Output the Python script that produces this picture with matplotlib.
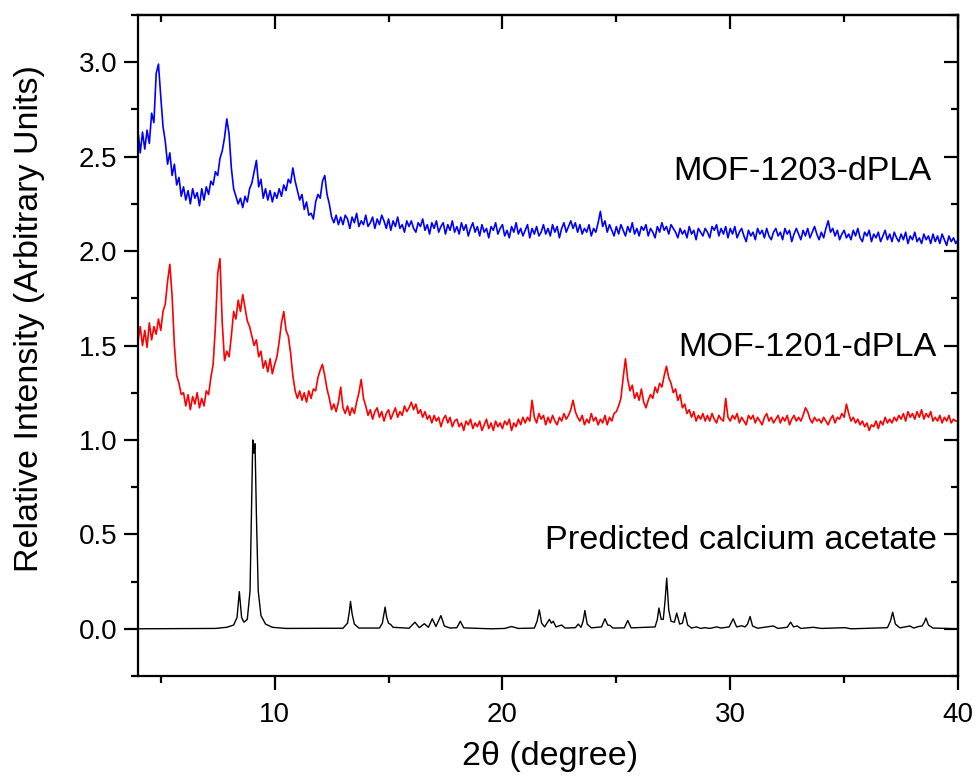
import numpy as np
import matplotlib.pyplot as plt
from matplotlib.ticker import MultipleLocator

plt.rcParams['font.family'] = ['Liberation Sans', 'DejaVu Sans']
plt.rcParams['xtick.labelsize'] = 20
plt.rcParams['ytick.labelsize'] = 20

# 2-theta grid of the measured patterns, 4.0 .. 40.0 in 0.1 deg steps
two_theta = np.round(np.arange(4.0, 40.05, 0.1), 1)

# MOF-1203-dPLA (offset pattern), one row per degree
mof1203 = [
    2.64, 2.52, 2.63, 2.54, 2.64, 2.57, 2.73, 2.68, 2.94, 2.99,
    2.82, 2.66, 2.58, 2.46, 2.52, 2.40, 2.46, 2.35, 2.39, 2.29,
    2.34, 2.27, 2.32, 2.25, 2.33, 2.28, 2.31, 2.24, 2.33, 2.27,
    2.34, 2.30, 2.37, 2.35, 2.42, 2.40, 2.49, 2.53, 2.60, 2.70,
    2.62, 2.44, 2.33, 2.29, 2.25, 2.28, 2.23, 2.29, 2.26, 2.33,
    2.36, 2.42, 2.48, 2.34, 2.38, 2.28, 2.33, 2.27, 2.32, 2.26,
    2.31, 2.28, 2.33, 2.29, 2.35, 2.32, 2.38, 2.36, 2.44, 2.37,
    2.32, 2.27, 2.30, 2.22, 2.26, 2.19, 2.20, 2.17, 2.26, 2.30,
    2.28, 2.37, 2.40, 2.30, 2.25, 2.18, 2.15, 2.19, 2.14, 2.18,
    2.14, 2.19, 2.17, 2.12, 2.18, 2.15, 2.20, 2.13, 2.16, 2.14,
    2.19, 2.13, 2.15, 2.18, 2.12, 2.17, 2.14, 2.19, 2.16, 2.12,
    2.17, 2.11, 2.16, 2.13, 2.18, 2.12, 2.14, 2.10, 2.16, 2.13,
    2.16, 2.12, 2.10, 2.15, 2.13, 2.17, 2.11, 2.14, 2.09, 2.15,
    2.12, 2.16, 2.10, 2.13, 2.15, 2.09, 2.14, 2.11, 2.16, 2.10,
    2.13, 2.09, 2.15, 2.11, 2.14, 2.08, 2.12, 2.15, 2.10, 2.13,
    2.08, 2.14, 2.10, 2.12, 2.07, 2.13, 2.11, 2.15, 2.09, 2.12,
    2.14, 2.08, 2.11, 2.07, 2.13, 2.10, 2.15, 2.09, 2.12, 2.08,
    2.11, 2.14, 2.07, 2.12, 2.09, 2.13, 2.08, 2.10, 2.14, 2.09,
    2.12, 2.08, 2.14, 2.10, 2.13, 2.07, 2.12, 2.15, 2.10, 2.13,
    2.16, 2.12, 2.15, 2.10, 2.14, 2.09, 2.12, 2.10, 2.14, 2.08,
    2.12, 2.10, 2.15, 2.21, 2.13, 2.16, 2.10, 2.14, 2.11, 2.08,
    2.13, 2.09, 2.14, 2.11, 2.08, 2.13, 2.10, 2.15, 2.09, 2.12,
    2.08, 2.13, 2.11, 2.14, 2.08, 2.12, 2.10, 2.07, 2.13, 2.10,
    2.15, 2.11, 2.13, 2.09, 2.14, 2.12, 2.10, 2.07, 2.12, 2.09,
    2.11, 2.07, 2.13, 2.09, 2.11, 2.06, 2.12, 2.10, 2.08, 2.12,
    2.10, 2.07, 2.13, 2.11, 2.14, 2.08, 2.12, 2.09, 2.13, 2.07,
    2.12, 2.09, 2.13, 2.07, 2.10, 2.12, 2.08, 2.05, 2.11, 2.08,
    2.10, 2.06, 2.12, 2.09, 2.11, 2.07, 2.12, 2.08, 2.06, 2.10,
    2.12, 2.08, 2.10, 2.06, 2.12, 2.09, 2.11, 2.05, 2.09, 2.12,
    2.09, 2.06, 2.11, 2.08, 2.12, 2.07, 2.10, 2.13, 2.09, 2.06,
    2.10, 2.07, 2.12, 2.16, 2.10, 2.12, 2.08, 2.11, 2.06, 2.09,
    2.11, 2.07, 2.09, 2.06, 2.11, 2.08, 2.12, 2.07, 2.05, 2.10,
    2.08, 2.11, 2.05, 2.09, 2.07, 2.10, 2.05, 2.08, 2.11, 2.06,
    2.09, 2.05, 2.10, 2.07, 2.05, 2.09, 2.06, 2.10, 2.04, 2.08,
    2.06, 2.10, 2.05, 2.07, 2.04, 2.09, 2.06, 2.08, 2.04, 2.09,
    2.05, 2.08, 2.04, 2.09, 2.06, 2.03, 2.08, 2.05, 2.07, 2.04,
    2.06,
]

# MOF-1201-dPLA (offset pattern), one row per degree
mof1201 = [
    1.52, 1.60, 1.50, 1.58, 1.49, 1.62, 1.53, 1.60, 1.56, 1.64,
    1.58, 1.68, 1.72, 1.84, 1.93, 1.76, 1.50, 1.34, 1.30, 1.24,
    1.25, 1.18, 1.24, 1.16, 1.23, 1.19, 1.25, 1.17, 1.22, 1.18,
    1.26, 1.24, 1.33, 1.40, 1.60, 1.88, 1.96, 1.62, 1.42, 1.47,
    1.44, 1.55, 1.68, 1.64, 1.74, 1.68, 1.77, 1.70, 1.63, 1.60,
    1.55, 1.50, 1.53, 1.44, 1.47, 1.38, 1.42, 1.36, 1.43, 1.35,
    1.40, 1.44, 1.52, 1.62, 1.68, 1.58, 1.55, 1.46, 1.34, 1.26,
    1.22, 1.26, 1.21, 1.25, 1.20, 1.26, 1.22, 1.27, 1.26, 1.33,
    1.37, 1.40, 1.34, 1.27, 1.22, 1.16, 1.19, 1.15, 1.20, 1.28,
    1.17, 1.14, 1.18, 1.13, 1.17, 1.14, 1.20, 1.25, 1.32, 1.22,
    1.18, 1.13, 1.16, 1.11, 1.15, 1.17, 1.12, 1.15, 1.10, 1.14,
    1.16, 1.11, 1.14, 1.17, 1.12, 1.15, 1.13, 1.18, 1.15, 1.17,
    1.20, 1.16, 1.19, 1.14, 1.16, 1.12, 1.15, 1.11, 1.13, 1.09,
    1.13, 1.10, 1.12, 1.07, 1.11, 1.13, 1.09, 1.12, 1.07, 1.10,
    1.11, 1.07, 1.09, 1.05, 1.10, 1.08, 1.11, 1.06, 1.09, 1.07,
    1.10, 1.05, 1.08, 1.11, 1.06, 1.09, 1.05, 1.10, 1.07, 1.09,
    1.06, 1.10, 1.08, 1.11, 1.05, 1.09, 1.07, 1.11, 1.08, 1.12,
    1.09, 1.12, 1.10, 1.21, 1.12, 1.09, 1.14, 1.11, 1.13, 1.08,
    1.12, 1.09, 1.13, 1.10, 1.08, 1.12, 1.10, 1.14, 1.11, 1.13,
    1.16, 1.21, 1.15, 1.12, 1.10, 1.13, 1.08, 1.11, 1.09, 1.14,
    1.10, 1.12, 1.08, 1.11, 1.09, 1.13, 1.08, 1.12, 1.10, 1.14,
    1.15, 1.18, 1.22, 1.33, 1.43, 1.32, 1.26, 1.29, 1.22, 1.25,
    1.21, 1.27, 1.20, 1.17, 1.21, 1.24, 1.22, 1.28, 1.25, 1.30,
    1.28, 1.34, 1.39, 1.33, 1.30, 1.25, 1.27, 1.21, 1.24, 1.17,
    1.19, 1.14, 1.16, 1.12, 1.15, 1.10, 1.13, 1.11, 1.14, 1.10,
    1.13, 1.10, 1.14, 1.11, 1.09, 1.13, 1.11, 1.10, 1.22, 1.12,
    1.10, 1.13, 1.11, 1.14, 1.09, 1.12, 1.10, 1.08, 1.13, 1.11,
    1.13, 1.09, 1.12, 1.10, 1.08, 1.12, 1.14, 1.10, 1.12, 1.09,
    1.11, 1.13, 1.09, 1.12, 1.10, 1.13, 1.08, 1.11, 1.13, 1.10,
    1.12, 1.10, 1.13, 1.17, 1.15, 1.11, 1.09, 1.12, 1.10, 1.11,
    1.09, 1.12, 1.10, 1.08, 1.11, 1.13, 1.09, 1.12, 1.11, 1.14,
    1.12, 1.19, 1.14, 1.10, 1.12, 1.09, 1.11, 1.08, 1.10, 1.07,
    1.09, 1.05, 1.08, 1.07, 1.10, 1.06, 1.10, 1.08, 1.12, 1.09,
    1.11, 1.09, 1.12, 1.10, 1.13, 1.11, 1.14, 1.10, 1.15, 1.12,
    1.14, 1.11, 1.15, 1.12, 1.16, 1.11, 1.14, 1.12, 1.15, 1.10,
    1.12, 1.10, 1.13, 1.09, 1.12, 1.10, 1.13, 1.09, 1.11, 1.10,
    1.10,
]

# predicted calcium acetate pattern (normalised), vertices of the simulated profile
calc_x = [
    4.0, 7.4, 7.9, 8.2, 8.35, 8.45, 8.55, 8.65, 8.8, 8.92, 8.98, 9.04, 9.09,
    9.14, 9.2, 9.28, 9.4, 9.6, 9.9, 10.5, 13.0, 13.2, 13.28, 13.33, 13.4,
    13.5, 13.7, 14.6, 14.73, 14.8, 14.85, 14.92, 15.0, 15.1, 15.2, 15.9,
    16.16, 16.35, 16.57, 16.75, 16.92, 17.08, 17.3, 17.45, 17.7, 18.0,
    18.15, 18.3, 19.5, 20.1, 20.4, 20.7, 21.4, 21.52, 21.62, 21.72, 21.85,
    22.06, 22.15, 22.23, 22.35, 22.6, 22.75, 23.2, 23.33, 23.45, 23.54,
    23.62, 23.72, 23.9, 24.35, 24.5, 24.62, 24.72, 24.85, 25.35, 25.5,
    25.65, 26.7, 26.8, 26.87, 26.97, 27.06, 27.14, 27.21, 27.3, 27.4,
    27.55, 27.65, 27.78, 27.9, 28.01, 28.13, 28.3, 28.52, 28.7, 28.89,
    29.1, 29.4, 29.6, 29.95, 30.13, 30.28, 30.5, 30.65, 30.76, 30.87,
    30.98, 31.2, 31.89, 32.1, 32.5, 32.65, 32.78, 32.94, 33.1, 33.65,
    34.0, 35.04, 35.3, 36.9, 37.03, 37.13, 37.25, 37.45, 37.89, 38.05,
    38.26, 38.42, 38.52, 38.59, 38.7, 38.9, 40.0,
]
calc_y = [
    0.0, 0.002, 0.008, 0.02, 0.06, 0.197, 0.06, 0.035, 0.05, 0.2, 0.6, 1.0,
    0.93, 0.98, 0.6, 0.2, 0.07, 0.025, 0.008, 0.002, 0.003, 0.03, 0.09,
    0.145, 0.08, 0.025, 0.004, 0.004, 0.03, 0.08, 0.115, 0.06, 0.03, 0.022,
    0.008, 0.003, 0.035, 0.006, 0.027, 0.008, 0.053, 0.012, 0.07, 0.015,
    0.004, 0.006, 0.04, 0.005, 0.0, 0.002, 0.012, 0.002, 0.004, 0.04, 0.10,
    0.03, 0.01, 0.05, 0.03, 0.04, 0.01, 0.02, 0.004, 0.006, 0.025, 0.008,
    0.04, 0.097, 0.025, 0.005, 0.01, 0.053, 0.02, 0.018, 0.004, 0.005,
    0.044, 0.005, 0.01, 0.05, 0.11, 0.05, 0.05, 0.15, 0.268, 0.1, 0.04,
    0.035, 0.083, 0.025, 0.03, 0.086, 0.02, 0.004, 0.01, 0.002, 0.006,
    0.002, 0.01, 0.004, 0.01, 0.053, 0.01, 0.016, 0.01, 0.025, 0.065,
    0.015, 0.003, 0.015, 0.002, 0.008, 0.035, 0.01, 0.015, 0.002, 0.008,
    0.002, 0.006, 0.0, 0.006, 0.04, 0.088, 0.025, 0.005, 0.015, 0.004,
    0.012, 0.015, 0.035, 0.057, 0.02, 0.004, 0.0,
]

labels = ["MOF-1203-dPLA", "MOF-1201-dPLA", "Predicted calcium acetate"]

fig = plt.figure(figsize=(9.77, 7.8), dpi=100)
ax = fig.add_axes([0.1412, 0.1333, 0.8394, 0.8475])

ax.plot(two_theta, mof1203, color="#0000ff", lw=1.2)
ax.plot(two_theta, mof1201, color="#ff0000", lw=1.2)
ax.plot(calc_x, calc_y, color="black", lw=1.0)

ax.text(38.86, 2.42, labels[0], ha="right", va="center", fontsize=24.7)
ax.text(39.07, 1.49, labels[1], ha="right", va="center", fontsize=24.7)
ax.text(39.07, 0.47, labels[2], ha="right", va="center", fontsize=24.7)

ax.set_xlim(4, 40)
ax.set_ylim(-0.25, 3.25)
ax.xaxis.set_major_locator(MultipleLocator(10))
ax.xaxis.set_minor_locator(MultipleLocator(5))
ax.yaxis.set_major_locator(MultipleLocator(0.5))
ax.yaxis.set_minor_locator(MultipleLocator(0.25))
ax.yaxis.set_major_formatter(plt.FormatStrFormatter("%.1f"))

for s in ax.spines.values():
    s.set_linewidth(1.6)
ax.tick_params(which="both", direction="out", width=1.6)
ax.tick_params(axis="y", which="major", length=10, pad=5)
ax.tick_params(axis="x", which="major", length=10, pad=9)
ax.tick_params(which="minor", length=5)

# mirrored ticks on top and right, pointing inwards
top = ax.secondary_xaxis("top")
top.xaxis.set_major_locator(MultipleLocator(10))
top.xaxis.set_minor_locator(MultipleLocator(5))
right = ax.secondary_yaxis("right")
right.yaxis.set_major_locator(MultipleLocator(0.5))
right.yaxis.set_minor_locator(MultipleLocator(0.25))
for sec in (top, right):
    sec.tick_params(which="both", direction="in", width=1.6,
                    labelbottom=False, labeltop=False, labelleft=False, labelright=False)
    sec.tick_params(which="major", length=10)
    sec.tick_params(which="minor", length=5)
    for s in sec.spines.values():
        s.set_linewidth(1.6)

fig.text(0.563, 0.030, "2θ (degree)", ha="center", va="center", fontsize=24.5)
fig.text(0.030, 0.591, "Relative Intensity (Arbitrary Units)", ha="center",
         va="center", rotation=90, fontsize=24.5)

fig.savefig("out.png", dpi=100)
